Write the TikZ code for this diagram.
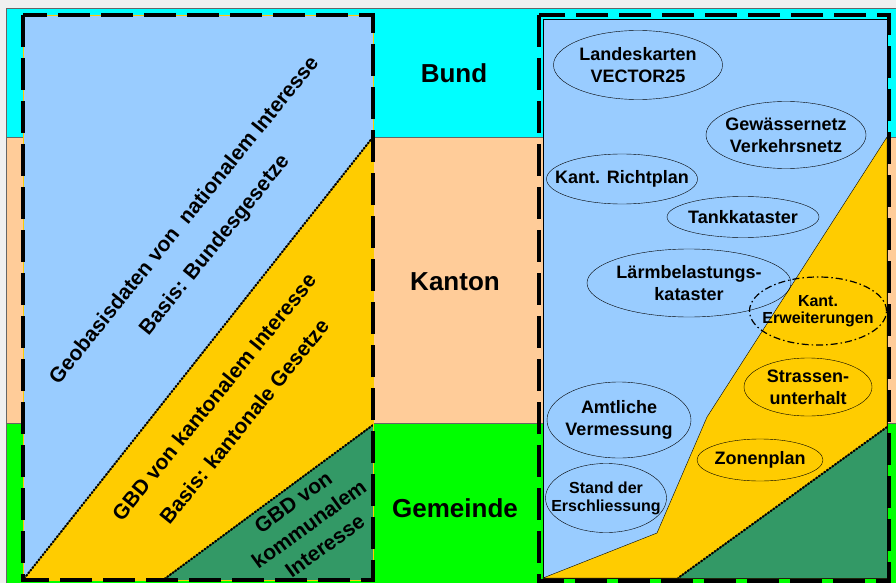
\documentclass[tikz,border=0pt]{standalone}
\usepackage{fontspec}
\setmainfont{Liberation Sans}
\usetikzlibrary{shapes.geometric}
\definecolor{paper}{HTML}{F0F0F0}
\definecolor{bundcol}{HTML}{00FFFF}
\definecolor{kantcol}{HTML}{FFCC99}
\definecolor{gemcol}{HTML}{00FF00}
\definecolor{natcol}{HTML}{99CCFF}
\definecolor{kbdcol}{HTML}{FFCC00}
\definecolor{komcol}{HTML}{339966}

\begin{document}
\begin{tikzpicture}[x=1pt, y=-1pt, thick,
  blob/.style = {draw, ellipse, thin, align=center, inner xsep=-15pt, inner ysep=0pt,
    font=\fontsize{18}{22}\selectfont\bfseries},
  level/.style = {anchor=base, font=\fontsize{26}{30}\selectfont\bfseries},
  slant/.style = {align=center, font=\fontsize{21}{25}\selectfont\bfseries},
  band/.style = {draw=black!60, thin},
  frame/.style = {line width=3.5pt, dash pattern=on 32pt off 11pt},
  seam/.style = {line width=2pt, dash pattern=on 2pt off 1.3pt}]
  \useasboundingbox (0,0) rectangle (896,583);
  \fill[paper] (0,0) rectangle (896,583);
  % levels
  \draw[band, fill=bundcol] (6,8) rectangle (897,137);
  \draw[band, fill=kantcol] (6,137) rectangle (897,423);
  \draw[band, fill=gemcol] (6,423) rectangle (897,584);
  % left panel
  \fill[natcol] (23,15) -- (373,15) -- (373,137) -- (23,580) -- cycle;
  \fill[kbdcol] (373,137) -- (373,425) -- (163,580) -- (23,580) -- cycle;
  \fill[komcol] (373,425) -- (373,580) -- (163,580) -- cycle;
  \draw[thin] (373,137) -- (23,580);
  \draw[thin] (373,425) -- (163,580);
  \draw[seam] (373,137) -- (23,580);
  \draw[seam] (373,425) -- (163,580);
  \draw[kbdcol, thin] (23,15) rectangle (373,580);
  \draw[frame] (23,15) rectangle (373,580);
  % right panel
  \draw[thin, fill=natcol] (543,19) rectangle (887,578);
  \filldraw[thin, fill=kbdcol] (887,137) -- (707,417) -- (657,533) -- (543,578) -- (887,578) -- cycle;
  \fill[komcol] (887,427) -- (887,578) -- (678,578) -- cycle;
  \draw[thin] (887,427) -- (678,578);
  \draw[seam] (887,427) -- (678,578);
  \draw[frame] (539,15) rectangle (889,581);
  % level names
  \node[level] (bund) at (454,83) {Bund};
  \node[level] (kanton) at (455,290) {Kanton};
  \node[level] (gemeinde) at (455,517) {Gemeinde};
  % slanted texts
  \node[slant, rotate=51] (nat) at (200,233) {Geobasisdaten von \ nationalem Interesse\\[14pt] Basis: Bundesgesetze};
  \node[slant, rotate=51] (kbd) at (229,409) {GBD von kantonalem Interesse\\[14pt] Basis: kantonale Gesetze};
  \node[slant, rotate=36, font=\fontsize{21}{27}\selectfont\bfseries] (kom) at (309,524) {GBD von\\kommunalem\\Interesse};
  % data sets
  \node[blob, minimum width=169pt, minimum height=69pt] (lk) at (638,65) {Landeskarten\\VECTOR25};
  \node[blob, minimum width=160pt, minimum height=67pt] (gn) at (786,135) {Gewässernetz\\Verkehrsnetz};
  \node[blob, minimum width=151pt, minimum height=50pt] (rp) at (622,179) {Kant. Richtplan};
  \node[blob, minimum width=152pt, minimum height=41pt] (tk) at (743,217) {Tankkataster};
  \node[blob, minimum width=204pt, minimum height=68pt] (lb) at (689,283) {Lärmbelastungs-\\kataster};
  \node[blob, minimum width=137pt, minimum height=68pt, line width=1.2pt,
    dash pattern=on 7pt off 3pt on 1.5pt off 3pt, font=\fontsize{16}{17}\selectfont\bfseries] (ke) at (818,311) {Kant.\\Erweiterungen};
  \node[blob, minimum width=128pt, minimum height=58pt] (su) at (808,387) {Strassen-\\unterhalt};
  \node[blob, minimum width=144pt, minimum height=76pt] (av) at (619,420) {Amtliche\\Vermessung};
  \node[blob, minimum width=126pt, minimum height=42pt] (zp) at (760,460) {Zonenplan};
  \node[blob, minimum width=121pt, minimum height=69pt, font=\fontsize{16}{18}\selectfont\bfseries] (se) at (606,498) {Stand der\\Erschliessung};
\end{tikzpicture}
\end{document}
